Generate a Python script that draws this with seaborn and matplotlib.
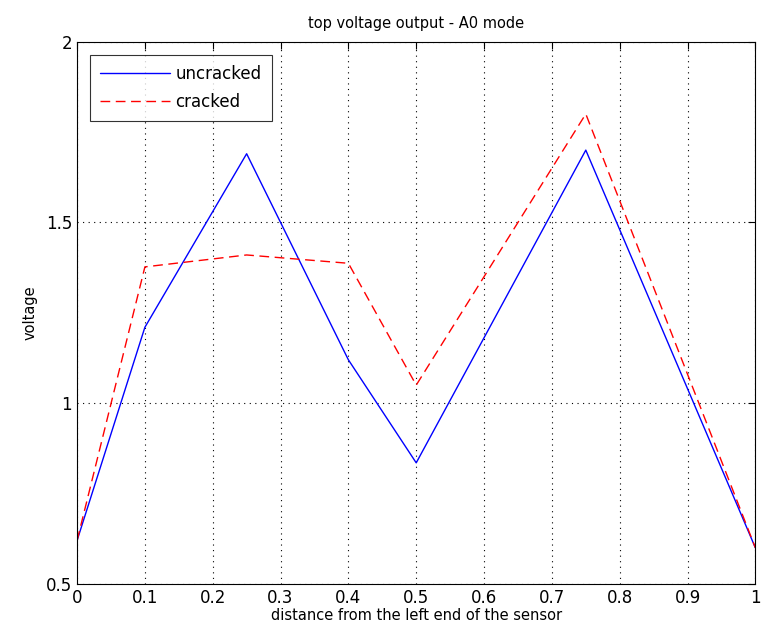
import numpy as np
import pandas as pd
import matplotlib
matplotlib.use("Agg")
import matplotlib.pyplot as plt
import seaborn as sns

# distance from the left end of the sensor
distance = [0, 0.1, 0.25, 0.4, 0.5, 0.75, 1.0]
uncracked = [0.62, 1.21, 1.69, 1.12, 0.835, 1.70, 0.60]
cracked = [0.62, 1.377, 1.41, 1.387, 1.05, 1.80, 0.60]
x_ticks = [0, 0.1, 0.2, 0.3, 0.4, 0.5, 0.6, 0.7, 0.8, 0.9, 1]
x_ticklabels = ["0", "0.1", "0.2", "0.3", "0.4", "0.5", "0.6", "0.7", "0.8", "0.9", "1"]
y_ticks = [0.5, 1, 1.5, 2]
y_ticklabels = ["0.5", "1", "1.5", "2"]

df = pd.DataFrame({
    "distance": distance * 2,
    "voltage": uncracked + cracked,
    "case": ["uncracked"] * len(distance) + ["cracked"] * len(distance),
})

sns.set_style("white")
plt.rcParams['font.family'] = ['DejaVu Sans']
plt.rcParams['text.color'] = 'black'
plt.rcParams['axes.labelcolor'] = 'black'

fig = plt.figure(figsize=(7.63, 6.41), dpi=100)
ax = fig.add_axes([0.101, 0.089, 0.889, 0.846])

sns.lineplot(data=df, x="distance", y="voltage", hue="case", style="case",
             palette={"uncracked": "#0000ff", "cracked": "#ff0000"},
             dashes={"uncracked": "", "cracked": (7, 4)},
             linewidth=1.0, sort=False, ax=ax)

ax.set_xlim(0, 1)
ax.set_ylim(0.5, 2)
ax.set_xticks(x_ticks)
ax.set_xticklabels(x_ticklabels)
ax.set_yticks(y_ticks)
ax.set_yticklabels(y_ticklabels)
ax.tick_params(direction="in", length=5, top=True, right=True,
               labelsize=12, colors="black", width=0.8)
ax.grid(True, linestyle=(0, (1, 4)), color="black", linewidth=0.8)
for s in ax.spines.values():
    s.set_color("black")
    s.set_linewidth(0.8)

ax.set_title("top voltage output - A0 mode", fontsize=10.5, pad=10, color="black")
ax.set_xlabel("distance from the left end of the sensor", fontsize=10.5, labelpad=1)
ax.set_ylabel("voltage", fontsize=10.5, labelpad=6)

leg = ax.legend(loc="upper left", fontsize=12, handlelength=4.2,
                frameon=True, fancybox=False, edgecolor="black",
                borderaxespad=0.8, labelspacing=0.6, borderpad=0.6,
                handletextpad=0.3)
leg.get_frame().set_linewidth(0.8)
for t in leg.get_texts():
    t.set_color("black")

fig.savefig("out.png", dpi=100)
